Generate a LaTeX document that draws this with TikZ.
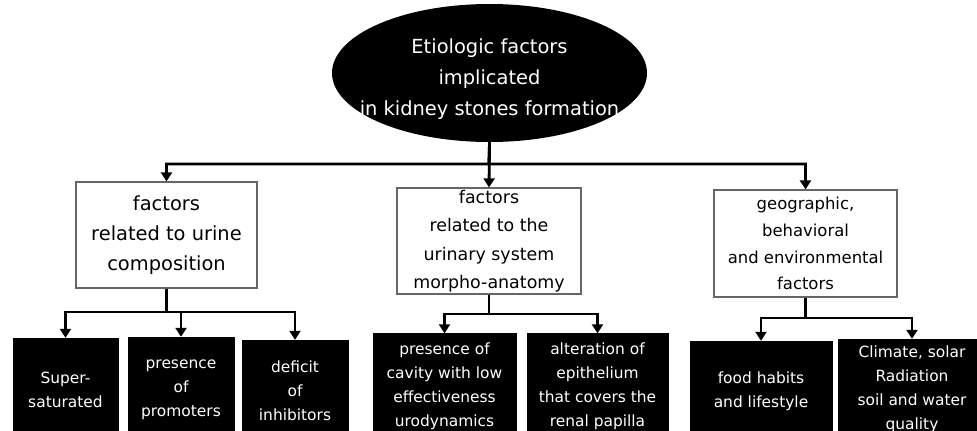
\documentclass[tikz,border=0pt]{standalone}
\usepackage{fontspec}
\setmainfont{DejaVu Sans}
\usetikzlibrary{arrows.meta,shapes.geometric}
\begin{document}
\begin{tikzpicture}[x=1bp,y=-1bp,
  conn/.style={line width=2.8bp,-{Triangle[width=11bp,length=9bp]}},
  wbox/.style={draw=black!60,line width=1.2bp,fill=white,align=center,inner sep=0pt},
  bbox/.style={draw=black,fill=black,text=white,align=center,inner sep=0pt,
    font=\fontsize{15.5}{24}\selectfont},
  ]
\useasboundingbox (0,0) rectangle (977,430);
\clip (0,0) rectangle (977,430);
% top ellipse
\node[ellipse,fill=black,minimum width=315bp,minimum height=138bp,inner sep=0pt] (top) at (489.5,73) {};
\node[text=white,align=center,font=\fontsize{19.5}{31}\selectfont] (toptext) at (489.5,79)
  {Etiologic factors\\implicated\\in kidney stones formation};
% middle row
\node[wbox,minimum width=181bp,minimum height=106bp,font=\fontsize{19.5}{30}\selectfont] (f1) at (166.5,235)
  {factors\\related to urine\\composition};
\node[wbox,minimum width=184bp,minimum height=106bp,font=\fontsize{17.5}{28.5}\selectfont] (f2) at (489,241)
  {factors\\related to the\\urinary system\\morpho-anatomy};
\node[wbox,minimum width=183bp,minimum height=107bp,font=\fontsize{16.5}{27}\selectfont] (f3) at (805.5,243.5)
  {geographic,\\behavioral\\and environmental\\factors};
% bottom row
\node[bbox,minimum width=105bp,minimum height=104bp] (s1) at (65.5,390) {Super-\\saturated};
\node[bbox,minimum width=106bp,minimum height=105bp] (s2) at (181,389.5) {presence\\of\\promoters};
\node[bbox,minimum width=106bp,minimum height=102bp] (s3) at (295,391) {deficit\\of\\inhibitors};
\node[bbox,minimum width=143bp,minimum height=105bp] (s4) at (444.5,386) {presence of\\cavity with low\\effectiveness\\urodynamics};
\node[bbox,minimum width=141bp,minimum height=105bp] (s5) at (597.5,386) {alteration of\\epithelium\\that covers the\\renal papilla};
\node[bbox,minimum width=142bp,minimum height=101bp] (s6) at (761,391.5) {food habits\\and lifestyle};
\node[bbox,minimum width=148bp,minimum height=101bp] (s7) at (912,389.5) {Climate, solar\\Radiation\\soil and water\\quality};
% connectors
\coordinate (j0) at (489,164);
\coordinate (j1) at (166.5,312);
\coordinate (j2) at (489,314);
\coordinate (j3) at (805.5,318);
\draw[conn] (top.south) -- (f2.north);
\draw[conn] (top.south) -- (j0) -| (f1.north);
\draw[conn] (top.south) -- (j0) -| (f3.north);
\draw[conn] (f1.south) -- (j1) -| (s1.north);
\draw[conn] (f1.south) -- (j1) -| (s2.north);
\draw[conn] (f1.south) -- (j1) -| (s3.north);
\draw[conn] (f2.south) -- (j2) -| (s4.north);
\draw[conn] (f2.south) -- (j2) -| (s5.north);
\draw[conn] (f3.south) -- (j3) -| (s6.north);
\draw[conn] (f3.south) -- (j3) -| (s7.north);
\end{tikzpicture}
\end{document}
